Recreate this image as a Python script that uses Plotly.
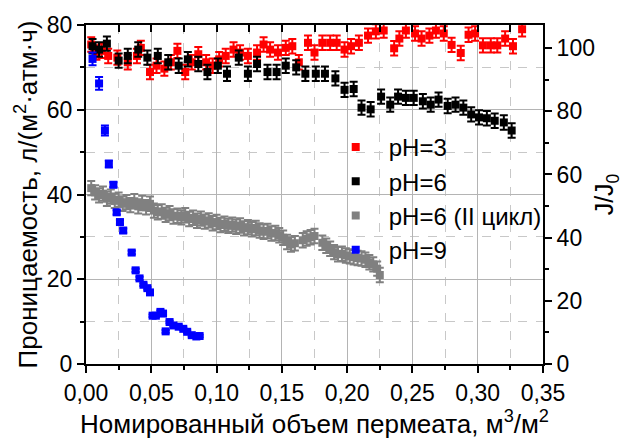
import plotly.graph_objects as go

# pH=3
x_ph3 = [0.004, 0.008, 0.012, 0.017, 0.024, 0.032, 0.039, 0.042, 0.049, 0.054, 0.060, 0.065,
         0.070, 0.076, 0.081, 0.086, 0.092, 0.097, 0.102, 0.107, 0.113, 0.118, 0.124, 0.131,
         0.136, 0.141, 0.147, 0.153, 0.158, 0.163, 0.170, 0.175, 0.181, 0.187, 0.192, 0.198,
         0.203, 0.209, 0.216, 0.222, 0.228, 0.236, 0.240, 0.245, 0.252, 0.257, 0.263, 0.268,
         0.274, 0.280, 0.287, 0.293, 0.298, 0.304, 0.310, 0.315, 0.321, 0.327, 0.334]
y_ph3 = [75.4, 73.5, 73.9, 72.7, 72.3, 71.2, 72.7, 74.6, 68.9, 70.4, 69.7, 71.2,
         73.9, 68.9, 71.2, 73.1, 71.2, 70.4, 71.9, 72.7, 74.2, 73.5, 72.7, 73.5,
         75.4, 74.2, 73.5, 74.6, 75.0, 71.2, 75.8, 73.5, 75.8, 75.8, 75.8, 74.2,
         75.0, 75.8, 77.5, 78.5, 78.7, 74.5, 76.8, 78.7, 78.0, 76.8, 77.5, 78.7,
         78.0, 75.3, 73.4, 77.7, 78.0, 75.2, 75.2, 75.2, 76.8, 75.0, 79.0]

# pH=6
x_ph6 = [0.005, 0.010, 0.016, 0.025, 0.032, 0.040, 0.047, 0.055, 0.063, 0.071, 0.078, 0.086,
         0.093, 0.101, 0.108, 0.117, 0.124, 0.131, 0.139, 0.146, 0.153, 0.161, 0.168, 0.176,
         0.183, 0.191, 0.198, 0.205, 0.211, 0.218, 0.226, 0.233, 0.239, 0.245, 0.251, 0.258,
         0.264, 0.270, 0.277, 0.283, 0.289, 0.295, 0.301, 0.307, 0.313, 0.320, 0.326]
y_ph6 = [75.0, 74.2, 75.6, 71.6, 72.7, 74.2, 72.3, 72.7, 71.2, 70.4, 71.9, 70.8,
         68.9, 70.4, 68.5, 72.3, 68.5, 70.8, 68.9, 68.9, 70.4, 70.0, 68.5, 68.5,
         68.5, 67.4, 64.7, 64.9, 60.5, 60.1, 63.1, 61.2, 63.1, 62.8, 62.8, 62.0,
         61.2, 62.4, 60.9, 61.2, 60.5, 58.9, 58.2, 58.0, 57.4, 57.0, 55.1]

# pH=6 (II цикл)
x_ph6b = [0.004, 0.007, 0.010, 0.013, 0.016, 0.019, 0.022, 0.025, 0.028, 0.031, 0.034, 0.037,
          0.040, 0.043, 0.046, 0.049, 0.052, 0.055, 0.058, 0.061, 0.064, 0.067, 0.070, 0.073,
          0.076, 0.079, 0.082, 0.085, 0.088, 0.091, 0.094, 0.097, 0.100, 0.103, 0.106, 0.109,
          0.112, 0.115, 0.118, 0.121, 0.124, 0.127, 0.130, 0.133, 0.136, 0.139, 0.142, 0.145,
          0.148, 0.151, 0.154, 0.157, 0.160, 0.166, 0.169, 0.172, 0.175, 0.181, 0.184, 0.187,
          0.190, 0.193, 0.196, 0.199, 0.202, 0.205, 0.208, 0.211, 0.214, 0.217, 0.220, 0.223, 0.225]
y_ph6b = [41.5, 40.5, 39.8, 40.2, 39.0, 39.5, 38.5, 38.8, 37.8, 38.2, 37.5, 38.4,
          37.2, 38.0, 37.0, 37.8, 36.2, 35.8, 36.0, 35.2, 35.6, 34.8, 35.0, 34.6,
          35.1, 34.2, 34.5, 33.8, 34.3, 33.6, 33.9, 33.2, 33.5, 32.8, 33.1, 32.6,
          32.9, 32.4, 32.7, 32.0, 32.3, 31.8, 32.1, 31.5, 31.2, 31.4, 30.8, 30.9,
          30.4, 29.8, 28.8, 28.2, 28.5, 29.2, 29.6, 29.9, 30.2, 28.6, 27.9, 27.2,
          26.4, 25.9, 26.0, 25.6, 25.4, 25.2, 25.0, 24.9, 24.6, 24.0, 23.5, 22.5, 21.0]

# pH=9
x_ph9 = [0.005, 0.010, 0.0145, 0.0175, 0.021, 0.0235, 0.026, 0.0285, 0.035, 0.038, 0.041,
         0.044, 0.047, 0.049, 0.051, 0.0535, 0.057, 0.059, 0.061, 0.064, 0.067, 0.071,
         0.0745, 0.0775, 0.081, 0.0845, 0.087]
y_ph9 = [72.0, 66.2, 55.1, 47.2, 42.3, 35.8, 33.5, 31.5, 26.3, 22.1, 20.2,
         18.7, 17.9, 16.9, 11.4, 11.4, 12.3, 11.9, 7.7, 9.9, 9.1, 8.8,
         8.3, 7.6, 6.8, 6.5, 6.6]
err_ph9 = [1.5, 1.5, 1.2, 0.8, 0.6, 0.5, 0.5, 0.5, 0.4, 0.4, 0.4,
           0.3, 0.3, 0.3, 0.3, 0.3, 0.3, 0.3, 0.3, 0.3, 0.3, 0.3,
           0.3, 0.3, 0.3, 0.3, 0.3]

series = [
    ("pH=3", x_ph3, y_ph3, "#FF0000", 1.7),
    ("pH=6", x_ph6, y_ph6, "#000000", 1.7),
    ("pH=6 (II цикл)", x_ph6b, y_ph6b, "#808080", 1.7),
]

fig = go.Figure()
for name, xs, ys, col, e in series:
    fig.add_trace(go.Scatter(
        x=xs, y=ys, mode="markers", name=name,
        marker=dict(symbol="square", size=8, color=col),
        error_y=dict(type="constant", value=e, color=col, thickness=2, width=4),
    ))
fig.add_trace(go.Scatter(
    x=x_ph9, y=y_ph9, mode="markers", name="pH=9",
    marker=dict(symbol="square", size=8, color="#0000FF"),
    error_y=dict(type="data", array=err_ph9, color="#0000FF", thickness=2, width=4),
))
# helper for right axis
fig.add_trace(go.Scatter(x=[None], y=[None], yaxis="y2", xaxis="x2", showlegend=False,
                         hoverinfo="skip"))

font = "Liberation Sans, Arial, sans-serif"
fig.update_layout(
    width=626, height=440,
    margin=dict(l=86, r=71, t=24, b=67),
    paper_bgcolor="white", plot_bgcolor="white",
    separators=", ",
    font=dict(family=font, size=22, color="black"),
    showlegend=True,
    legend=dict(x=0.518, y=0.705, xanchor="left", yanchor="top",
                bgcolor="rgba(0,0,0,0)", font=dict(size=24), itemwidth=56),
    xaxis=dict(
        range=[0, 0.35], dtick=0.05, tickformat=".2f",
        showline=True, linecolor="black", linewidth=2,
        ticks="outside", ticklen=7, tickwidth=2, tickcolor="black",
        showgrid=True, gridcolor="#b4b4b4", gridwidth=1,
        zeroline=False,
        minor=dict(dtick=0.025, ticks="outside", ticklen=4, tickwidth=2, tickcolor="black",
                   showgrid=True, gridcolor="#c8c8c8", griddash="dash", gridwidth=1),
        title=dict(text="Номированный объем пермеата, м<sup>3</sup>/м<sup>2</sup>",
                   standoff=4, font=dict(size=26)),
        tickfont=dict(size=23),
    ),
    xaxis2=dict(
        overlaying="x", side="top", range=[0, 0.35], dtick=0.025, showticklabels=False,
        showline=True, linecolor="black", linewidth=2, ticks="inside", ticklen=7,
        tickwidth=2, tickcolor="black", showgrid=False, zeroline=False,
    ),
    yaxis=dict(
        range=[0, 80], dtick=20,
        showline=True, linecolor="black", linewidth=2,
        ticks="outside", ticklen=7, tickwidth=2, tickcolor="black",
        showgrid=True, gridcolor="#b4b4b4", gridwidth=1, zeroline=False,
        minor=dict(dtick=10, ticks="outside", ticklen=4, tickwidth=2, tickcolor="black",
                   showgrid=True, gridcolor="#c8c8c8", griddash="dash", gridwidth=1),
        title=dict(text="Проницаемость, л/(м<sup>2</sup>·атм·ч)", standoff=2,
                   font=dict(size=26)),
        tickfont=dict(size=23),
    ),
    yaxis2=dict(
        overlaying="y", side="right", range=[0, 107.3], dtick=20,
        showline=True, linecolor="black", linewidth=2,
        ticks="outside", ticklen=7, tickwidth=2, tickcolor="black",
        showgrid=False, zeroline=False,
        minor=dict(dtick=10, ticks="outside", ticklen=4, tickwidth=2, tickcolor="black"),
        title=dict(text="J/J<sub>0</sub>", standoff=2, font=dict(size=25)),
        tickfont=dict(size=23),
    ),
)

fig.write_html("out.html")
